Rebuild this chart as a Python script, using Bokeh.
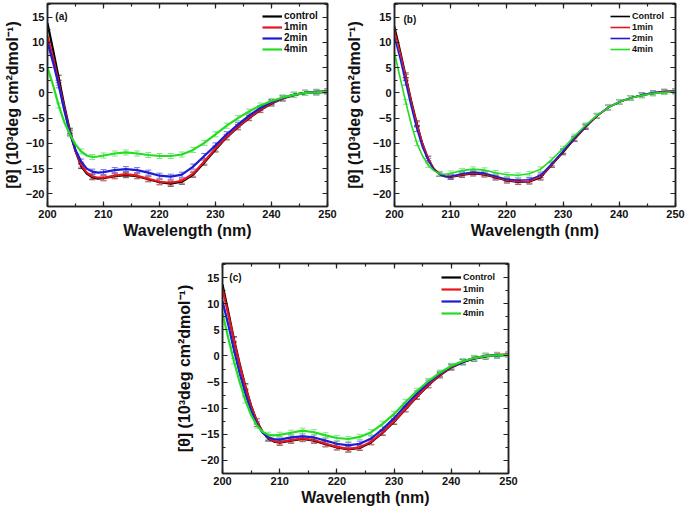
from bokeh.plotting import figure
from bokeh.models import (Range1d, LinearAxis, SingleIntervalTicker, Legend, LegendItem,
                          Label, Whisker, TeeHead, ColumnDataSource, Spacer)
from bokeh.layouts import column, row
from bokeh.embed import file_html
from bokeh.resources import INLINE

# ---------------- data ----------------
wavelength = [200, 201, 202, 203, 204, 205, 206, 207, 208, 209, 210,
              212, 214, 216, 218, 220, 222, 224, 226, 228, 230,
              232, 234, 236, 238, 240, 242, 244, 246, 248, 250]

a_control = [13.8, 8.5, 3.0, -2.5, -7.5, -11.5, -14.5, -16.0, -16.7, -17.0, -16.9,
             -16.5, -16.3, -16.5, -17.1, -17.7, -18.0, -17.6, -16.2, -13.8, -11.2,
             -8.8, -6.8, -5.0, -3.4, -2.1, -1.1, -0.4, 0.0, 0.2, 0.3]
a_1min = [11.2, 7.0, 2.0, -3.0, -7.8, -11.5, -14.2, -15.8, -16.5, -16.8, -16.8,
          -16.4, -16.1, -16.4, -17.0, -17.6, -17.8, -17.4, -16.0, -13.6, -11.0,
          -8.7, -6.7, -4.9, -3.3, -2.0, -1.1, -0.4, 0.0, 0.1, 0.2]
a_2min = [10.0, 6.0, 1.5, -3.5, -8.0, -11.3, -13.6, -15.0, -15.6, -15.8, -15.7,
          -15.3, -15.1, -15.3, -15.8, -16.4, -16.6, -16.2, -14.6, -12.5, -10.4,
          -8.2, -6.3, -4.5, -3.0, -1.8, -1.0, -0.4, 0.0, 0.1, 0.2]
a_4min = [5.0, 1.5, -2.5, -5.8, -8.2, -10.2, -11.6, -12.4, -12.7, -12.6, -12.4,
          -12.0, -11.8, -12.0, -12.3, -12.5, -12.5, -12.2, -11.3, -9.9, -8.2,
          -6.5, -5.0, -3.7, -2.5, -1.6, -0.9, -0.4, 0.0, 0.1, 0.2]

b_control = [13.2, 8.5, 3.5, -1.5, -6.0, -10.0, -13.0, -15.0, -16.1, -16.6, -16.7,
             -16.3, -16.0, -16.2, -16.8, -17.4, -17.7, -17.6, -16.8, -14.3, -11.8,
             -9.2, -6.8, -4.6, -2.9, -1.8, -1.0, -0.5, -0.1, 0.2, 0.3]
b_1min = [12.3, 8.0, 3.2, -1.8, -6.2, -10.1, -13.0, -15.0, -16.0, -16.5, -16.6,
          -16.2, -15.9, -16.1, -16.7, -17.3, -17.6, -17.5, -16.6, -14.2, -11.6,
          -9.1, -6.7, -4.6, -2.9, -1.8, -1.0, -0.4, 0.0, 0.3, 0.4]
b_2min = [11.0, 6.8, 2.0, -2.8, -7.2, -10.8, -13.4, -15.2, -16.1, -16.5, -16.5,
          -16.0, -15.7, -15.9, -16.5, -17.1, -17.3, -17.2, -16.3, -14.0, -11.5,
          -9.0, -6.6, -4.5, -2.9, -1.8, -1.0, -0.4, 0.0, 0.2, 0.3]
b_4min = [7.9, 3.0, -1.8, -6.3, -10.0, -12.5, -14.3, -15.4, -16.0, -16.1, -15.9,
          -15.4, -15.1, -15.3, -15.8, -16.2, -16.3, -16.0, -15.1, -13.2, -11.0,
          -8.6, -6.4, -4.5, -2.9, -1.8, -1.0, -0.5, -0.1, 0.1, 0.2]

c_control = [13.7, 8.5, 3.2, -1.5, -5.8, -9.5, -12.5, -14.5, -15.8, -16.4, -16.6,
             -16.2, -15.9, -16.2, -16.9, -17.5, -17.9, -17.6, -16.5, -14.7, -12.6,
             -10.2, -7.8, -5.6, -3.7, -2.2, -1.2, -0.5, -0.1, 0.1, 0.2]
c_1min = [12.8, 8.0, 3.0, -1.8, -6.0, -9.6, -12.5, -14.5, -15.7, -16.3, -16.5,
          -16.1, -15.8, -16.1, -16.8, -17.4, -17.8, -17.5, -16.4, -14.6, -12.5,
          -10.1, -7.7, -5.5, -3.6, -2.1, -1.1, -0.4, 0.0, 0.2, 0.3]
c_2min = [10.5, 6.0, 1.2, -3.3, -7.2, -10.5, -13.0, -14.7, -15.6, -15.9, -16.0,
          -15.6, -15.4, -15.6, -16.2, -16.8, -17.1, -16.8, -15.8, -14.0, -11.9,
          -9.5, -7.2, -5.1, -3.4, -2.0, -1.1, -0.4, 0.0, 0.1, 0.2]
c_4min = [8.2, 3.5, -1.0, -5.0, -8.5, -11.3, -13.3, -14.5, -15.1, -15.2, -15.1,
          -14.7, -14.3, -14.6, -15.2, -15.7, -15.9, -15.5, -14.6, -13.0, -11.1,
          -8.8, -6.7, -4.8, -3.2, -1.9, -1.0, -0.4, 0.0, 0.1, 0.2]

err_a = 0.5
err_b = 0.45
err_c = 0.5

labels_a = ["control", "1min", "2min", "4min"]
labels_bc = ["Control", "1min", "2min", "4min"]

x_ticks_interval = 10
y_ticks_interval = 5

# ---------------- styles ----------------
FONT = "Liberation Sans"
LINE_COLORS = ["#000000", "#e8141c", "#1c1cd2", "#22dd22"]
ERR_COLORS = ["#505050", "#f07070", "#7070e8", "#80e880"]
Y_LABEL = "[\u03b8] (10\u00b3deg cm\u00b2dmol\u207b\u00b9)"
X_LABEL = "Wavelength (nm)"


def style_axis(ax, show_labels=True):
    ax.axis_line_width = 1.5
    ax.axis_line_color = "#222222"
    ax.major_tick_in = 5
    ax.major_tick_out = 0
    ax.minor_tick_in = 3
    ax.minor_tick_out = 0
    ax.major_tick_line_width = 1.2
    ax.minor_tick_line_width = 1.2
    ax.major_tick_line_color = "#222222"
    ax.minor_tick_line_color = "#222222"
    if show_labels:
        ax.major_label_text_font = FONT
        ax.major_label_text_font_style = "bold"
        ax.major_label_text_font_size = "11px"
        ax.major_label_text_color = "#111111"
        ax.axis_label_text_font = FONT
        ax.axis_label_text_font_style = "bold"
        ax.axis_label_text_font_size = "16px"
        ax.axis_label_text_color = "#111111"
    else:
        ax.major_label_text_color = None
        ax.major_label_text_font_size = "1px"
        ax.major_label_standoff = 0


def make_panel(series, names, err, tag, tag_xy, width, height, borders,
               legend_xy, legend_font, legend_spacing, lw, ylab_standoff):
    bl, br, bt, bb = borders
    p = figure(width=width, height=height, x_range=Range1d(200, 250),
               y_range=Range1d(-22.5, 17.7), output_backend="svg",
               toolbar_location=None, min_border_left=bl, min_border_right=br,
               min_border_top=bt, min_border_bottom=bb)
    p.xgrid.visible = False
    p.ygrid.visible = False
    p.outline_line_color = "#222222"
    p.outline_line_width = 1.5
    p.background_fill_color = "white"
    p.border_fill_color = "white"

    p.xaxis[0].ticker = SingleIntervalTicker(interval=x_ticks_interval, num_minor_ticks=2)
    p.yaxis[0].ticker = SingleIntervalTicker(interval=y_ticks_interval, num_minor_ticks=2)
    style_axis(p.xaxis[0])
    style_axis(p.yaxis[0])
    p.xaxis[0].axis_label = X_LABEL
    p.yaxis[0].axis_label = Y_LABEL
    p.xaxis[0].major_label_standoff = 3
    p.xaxis[0].axis_label_standoff = 1
    p.yaxis[0].major_label_standoff = 3
    p.yaxis[0].axis_label_standoff = ylab_standoff

    top = LinearAxis(ticker=SingleIntervalTicker(interval=x_ticks_interval, num_minor_ticks=2))
    right = LinearAxis(ticker=SingleIntervalTicker(interval=y_ticks_interval, num_minor_ticks=2))
    style_axis(top, show_labels=False)
    style_axis(right, show_labels=False)
    p.add_layout(top, "above")
    p.add_layout(right, "right")

    items = []
    for ys, name, lc, ec in zip(series, names, LINE_COLORS, ERR_COLORS):
        src = ColumnDataSource(dict(x=wavelength, y=ys))
        r = p.line("x", "y", source=src, line_color=lc, line_width=lw)
        ex = [xv for xv in wavelength if xv % 2 == 0 and xv > 200]
        ey = [yv for xv, yv in zip(wavelength, ys) if xv % 2 == 0 and xv > 200]
        esrc = ColumnDataSource(dict(x=ex, upper=[v + err for v in ey],
                                     lower=[v - err for v in ey]))
        w = Whisker(base="x", upper="upper", lower="lower", source=esrc,
                    dimension="height", line_color=ec, line_width=1,
                    upper_head=TeeHead(size=6, line_color=ec, line_width=1),
                    lower_head=TeeHead(size=6, line_color=ec, line_width=1))
        p.add_layout(w)
        items.append(LegendItem(label=name, renderers=[r]))

    leg = Legend(items=items, location=legend_xy)
    leg.background_fill_alpha = 0
    leg.border_line_alpha = 0
    leg.label_text_font = FONT
    leg.label_text_font_style = "bold"
    leg.label_text_font_size = legend_font
    leg.label_text_color = "#111111"
    leg.glyph_width = 20
    leg.glyph_height = 10
    leg.label_height = 10
    leg.label_standoff = 2
    leg.spacing = legend_spacing
    leg.padding = 0
    leg.margin = 0
    p.add_layout(leg)

    p.add_layout(Label(x=tag_xy[0], y=tag_xy[1], text=tag, text_font=FONT,
                       text_font_style="bold", text_font_size="10px",
                       text_baseline="middle", text_align="left",
                       text_color="#111111"))
    return p


# row 1: panel (a) frame 47..327 x 3..209, panel (b) frame 394..675 x 0..206
pa = make_panel([a_control, a_1min, a_2min, a_4min], labels_a, err_a, "(a)",
                (201.4, 15.1), 340, 250, (47, 13, 3, 41),
                (215, 152), "10px", 0, 2.2, 2)
pb = make_panel([b_control, b_1min, b_2min, b_4min], labels_bc, err_b, "(b)",
                (201.6, 14.6), 345, 250, (54, 10, 0, 44),
                (216, 152), "9px", 1, 1.6, 7)
# row 2: panel (c) frame 222..508 x 263..473
pc = make_panel([c_control, c_1min, c_2min, c_4min], labels_bc, err_c, "(c)",
                (201.2, 15.1), 348, 258, (52, 10, 13, 35),
                (219, 155), "9px", 2, 2.2, 5)

layout = column(row(pa, pb), row(Spacer(width=170, height=258), pc))

open("out.html", "w").write(file_html(layout, INLINE))
